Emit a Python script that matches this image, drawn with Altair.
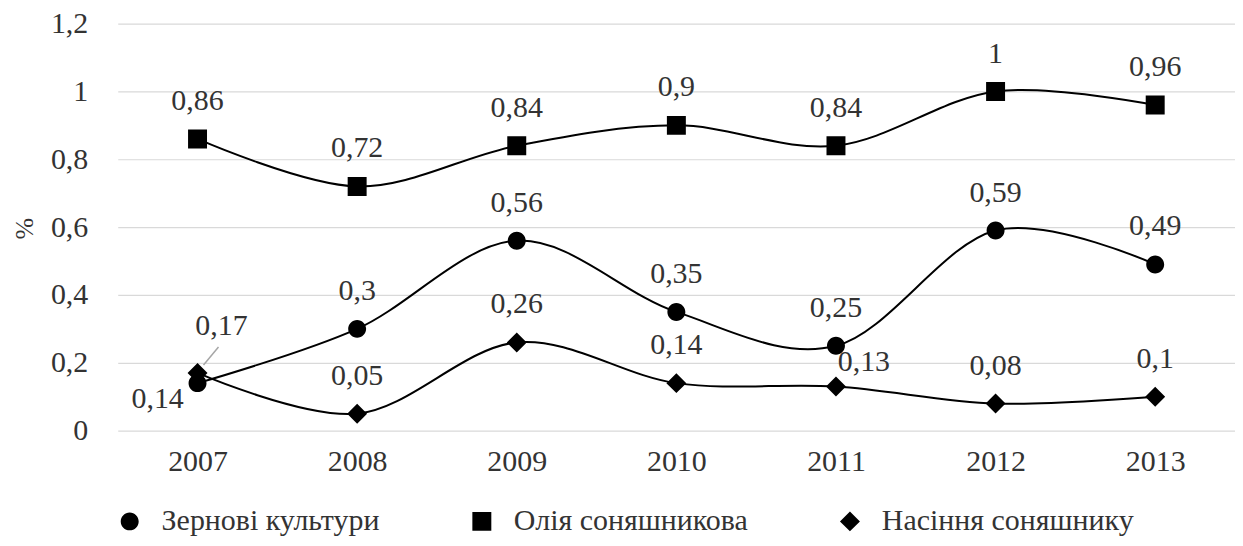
import altair as alt
import pandas as pd

years = ["2007", "2008", "2009", "2010", "2011", "2012", "2013"]
series = ["Зернові культури", "Олія соняшникова", "Насіння соняшнику"]
grain = [0.14, 0.30, 0.56, 0.35, 0.25, 0.59, 0.49]
oil = [0.86, 0.72, 0.84, 0.90, 0.84, 1.00, 0.96]
seeds = [0.17, 0.05, 0.26, 0.14, 0.13, 0.08, 0.10]
y_ticks = [0, 0.2, 0.4, 0.6, 0.8, 1.0, 1.2]


def fmt(v):
    return ("%g" % v).replace(".", ",")


rows = []
for name, vals in zip(series, [grain, oil, seeds]):
    for yr, v in zip(years, vals):
        rows.append({"year": yr, "series": name, "value": v, "label": fmt(v)})
df = pd.DataFrame(rows)

is_g07 = (df["series"] == series[0]) & (df["year"] == "2007")
is_s07 = (df["series"] == series[2]) & (df["year"] == "2007")
is_s11 = (df["series"] == series[2]) & (df["year"] == "2011")
df_main = df[~(is_g07 | is_s07 | is_s11)]
df_g07 = df[is_g07]
df_s07 = df[is_s07]
df_s11 = df[is_s11]

FONT = "Liberation Serif"
TXT = "#333333"

shape_paths = [
    "M-2.6,0H2.6M0.9,0A0.9,0.9,0,1,1,-0.9,0A0.9,0.9,0,1,1,0.9,0Z",
    "M-2.6,0H2.6M-0.95,-0.95H0.95V0.95H-0.95Z",
    "M-2.6,0H2.6M-1,0L0,-1L1,0L0,1Z",
]

x_enc = alt.X(
    "year:N",
    sort=years,
    scale=alt.Scale(type="point", padding=0.5),
    axis=alt.Axis(
        title=None, labelAngle=0, ticks=False, domain=False, grid=False,
        labelFont=FONT, labelFontSize=30, labelColor=TXT, labelPadding=16,
    ),
)
y_enc = alt.Y(
    "value:Q",
    scale=alt.Scale(domain=[0, 1.2], nice=False),
    axis=alt.Axis(
        values=y_ticks, format="~g", title="%", ticks=False, domain=False, grid=True,
        gridColor="#d9d9d9", gridWidth=1.2,
        labelFont=FONT, labelFontSize=30, labelColor=TXT, labelPadding=30,
        titleFont=FONT, titleFontSize=26, titleFontWeight="normal", titleColor=TXT,
        titleX=-93, titleY=205, titleAngle=270, titleAlign="center", titleBaseline="middle",
    ),
)

legend = alt.Legend(
    title=None, orient="none", legendX=-3, legendY=484, direction="horizontal",
    symbolSize=400, symbolStrokeWidth=2, symbolStrokeColor="black",
    symbolFillColor="black", symbolOpacity=1,
    labelFont=FONT, labelFontSize=30, labelColor=TXT, labelOffset=17,
    columnPadding=72, labelLimit=0,
)

lines = alt.Chart(df).mark_line(interpolate="cardinal", color="black", strokeWidth=2).encode(
    x=x_enc, y=y_enc, detail="series:N"
)

points = alt.Chart(df).mark_point(
    filled=True, size=400, color="black", opacity=1
).encode(
    x=x_enc, y=y_enc,
    shape=alt.Shape("series:N", scale=alt.Scale(domain=series, range=shape_paths), legend=legend),
)

text_style = dict(font=FONT, fontSize=30, color=TXT, baseline="middle", align="center")

labels = alt.Chart(df_main).mark_text(dy=-38, **text_style).encode(
    x=x_enc, y=y_enc, text="label:N"
)
lab_g07 = alt.Chart(df_g07).mark_text(dx=-40, dy=16, **text_style).encode(
    x=x_enc, y=y_enc, text="label:N"
)
lab_s07 = alt.Chart(df_s07).mark_text(dx=24, dy=-47, **text_style).encode(
    x=x_enc, y=y_enc, text="label:N"
)
lab_s11 = alt.Chart(df_s11).mark_text(dx=28, dy=-25, **text_style).encode(
    x=x_enc, y=y_enc, text="label:N"
)

leader = alt.Chart(df_s07).mark_rule(
    color="#a6a6a6", strokeWidth=1.5, xOffset=6, yOffset=-8, x2Offset=21, y2Offset=-26
).encode(x=x_enc, y=y_enc, x2="year:N", y2="value:Q")

chart = alt.layer(lines, leader, points, labels, lab_g07, lab_s07, lab_s11).properties(
    width=1120,
    height=408,
    autosize=alt.AutoSizeParams(type="pad"),
    padding={"left": 4, "top": 0, "right": 0, "bottom": 0},
).configure_view(stroke=None)

chart.save(
    "out.html",
    embed_options={
        "renderer": "svg",
        "actions": False,
        "formatLocale": {"decimal": ",", "thousands": "\u00a0", "grouping": [3], "currency": ["", ""]},
    },
)
